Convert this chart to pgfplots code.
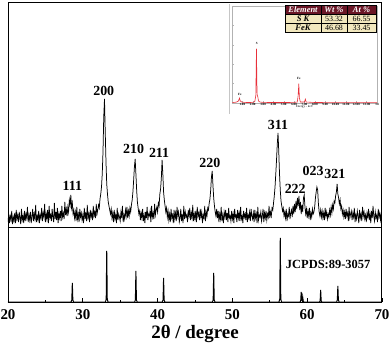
\documentclass[border=0pt]{standalone}
\usepackage{pgfplots}
\pgfplotsset{compat=1.18}
\usepackage{fontspec}
\setmainfont{Liberation Serif}
\definecolor{tabred}{HTML}{6A1626}
\definecolor{tabbeige}{HTML}{F2E8BE}
\definecolor{edsred}{HTML}{E8303A}
\begin{document}
\begin{tikzpicture}
\begin{axis}[
  name=main,
  at={(0,0)}, anchor=south west,
  scale only axis, width=374bp, height=299bp,
  xmin=20, xmax=70, ymin=0, ymax=299,
  axis line style={line width=1pt},
  xtick={20,30,40,50,60,70},
  minor x tick num=1,
  xtick pos=left, ytick=\empty,
  tick align=inside,
  major tick length=4bp, minor tick length=2bp,
  tick style={black, line width=0.6pt},
  /pgf/number format/assume math mode=true,
  xticklabel style={font=\fontsize{15}{15}\selectfont\bfseries, yshift=-4bp},
  xlabel={2θ / degree},
  xlabel style={font=\fontsize{19}{19}\selectfont\bfseries, at={(axis description cs:0.5,0)}, anchor=north, yshift=-20bp},
]
% measured pattern
\addplot[black, line width=0.75pt] coordinates {
(20.0,80)(20.1,88)(20.2,79)(20.3,86)(20.4,82)(20.5,91)(20.6,78)(20.7,85)(20.8,81)(20.9,89)
(21.0,79)(21.1,92)(21.2,83)(21.3,87)(21.4,80)(21.5,90)(21.6,84)(21.7,78)(21.8,93)(21.9,82)
(22.0,86)(22.1,79)(22.2,91)(22.3,81)(22.4,88)(22.5,84)(22.6,95)(22.7,80)(22.8,87)(22.9,82)
(23.0,90)(23.1,79)(23.2,85)(23.3,93)(23.4,81)(23.5,88)(23.6,83)(23.7,97)(23.8,80)(23.9,86)
(24.0,82)(24.1,91)(24.2,79)(24.3,87)(24.4,84)(24.5,94)(24.6,81)(24.7,89)(24.8,85)(24.9,98)
(25.0,80)(25.1,88)(25.2,83)(25.3,92)(25.4,79)(25.5,96)(25.6,84)(25.7,87)(25.8,81)(25.9,93)
(26.0,85)(26.1,80)(26.2,99)(26.3,83)(26.4,90)(26.5,82)(26.6,94)(26.7,79)(26.8,88)(26.9,84)
(27.0,91)(27.1,81)(27.2,96)(27.3,85)(27.4,89)(27.5,83)(27.6,100)(27.7,87)(27.8,93)(27.9,86)
(28.0,95)(28.1,90)(28.2,102)(28.3,97)(28.4,107)(28.5,94)(28.6,99)(28.7,88)(28.8,92)(28.9,84)
(29.0,90)(29.1,81)(29.2,95)(29.3,83)(29.4,88)(29.5,80)(29.6,93)(29.7,85)(29.8,89)(29.9,82)
(30.0,87)(30.1,79)(30.2,94)(30.3,83)(30.4,90)(30.5,81)(30.6,97)(30.7,84)(30.8,88)(30.9,80)
(31.0,92)(31.1,85)(31.2,89)(31.3,82)(31.4,96)(31.5,86)(31.6,90)(31.7,84)(31.8,98)(31.9,88)
(32.0,92)(32.1,97)(32.2,94)(32.3,103)(32.4,108)(32.5,115)(32.6,128)(32.7,150)(32.8,185)(32.9,203)
(33.0,170)(33.1,140)(33.2,118)(33.3,108)(33.4,100)(33.5,96)(33.6,92)(33.7,88)(33.8,93)(33.9,84)
(34.0,89)(34.1,80)(34.2,92)(34.3,83)(34.4,87)(34.5,79)(34.6,94)(34.7,82)(34.8,88)(34.9,85)
(35.0,81)(35.1,90)(35.2,84)(35.3,96)(35.4,80)(35.5,87)(35.6,83)(35.7,92)(35.8,86)(35.9,95)
(36.0,84)(36.1,91)(36.2,86)(36.3,94)(36.4,90)(36.5,97)(36.6,102)(36.7,110)(36.8,122)(36.9,135)
(37.0,143)(37.1,128)(37.2,112)(37.3,100)(37.4,94)(37.5,88)(37.6,91)(37.7,82)(37.8,89)(37.9,84)
(38.0,93)(38.1,81)(38.2,87)(38.3,79)(38.4,90)(38.5,84)(38.6,95)(38.7,82)(38.8,88)(38.9,86)
(39.0,91)(39.1,80)(39.2,96)(39.3,85)(39.4,89)(39.5,83)(39.6,98)(39.7,87)(39.8,92)(39.9,95)
(40.0,90)(40.1,99)(40.2,96)(40.3,108)(40.4,113)(40.5,124)(40.6,142)(40.7,128)(40.8,110)(40.9,102)
(41.0,96)(41.1,90)(41.2,94)(41.3,85)(41.4,91)(41.5,82)(41.6,88)(41.7,80)(41.8,93)(41.9,84)
(42.0,87)(42.1,79)(42.2,92)(42.3,83)(42.4,89)(42.5,81)(42.6,95)(42.7,86)(42.8,90)(42.9,80)
(43.0,84)(43.1,93)(43.2,81)(43.3,88)(43.4,79)(43.5,96)(43.6,83)(43.7,90)(43.8,85)(43.9,87)
(44.0,80)(44.1,92)(44.2,86)(44.3,94)(44.4,82)(44.5,89)(44.6,84)(44.7,97)(44.8,81)(44.9,88)
(45.0,83)(45.1,91)(45.2,80)(45.3,95)(45.4,86)(45.5,89)(45.6,82)(45.7,93)(45.8,85)(45.9,90)
(46.0,79)(46.1,87)(46.2,84)(46.3,96)(46.4,81)(46.5,90)(46.6,86)(46.7,94)(46.8,92)(46.9,99)
(47.0,103)(47.1,112)(47.2,125)(47.3,131)(47.4,117)(47.5,104)(47.6,96)(47.7,90)(47.8,86)(47.9,93)
(48.0,84)(48.1,91)(48.2,80)(48.3,88)(48.4,83)(48.5,95)(48.6,81)(48.7,87)(48.8,79)(48.9,90)
(49.0,85)(49.1,92)(49.2,82)(49.3,89)(49.4,80)(49.5,94)(49.6,84)(49.7,86)(49.8,81)(49.9,91)
(50.0,83)(50.1,88)(50.2,79)(50.3,93)(50.4,85)(50.5,87)(50.6,80)(50.7,92)(50.8,84)(50.9,89)
(51.0,81)(51.1,95)(51.2,83)(51.3,86)(51.4,79)(51.5,91)(51.6,85)(51.7,88)(51.8,82)(51.9,94)
(52.0,80)(52.1,87)(52.2,84)(52.3,90)(52.4,81)(52.5,93)(52.6,86)(52.7,83)(52.8,89)(52.9,80)
(53.0,92)(53.1,84)(53.2,88)(53.3,79)(53.4,95)(53.5,82)(53.6,87)(53.7,85)(53.8,90)(53.9,81)
(54.0,86)(54.1,93)(54.2,80)(54.3,89)(54.4,84)(54.5,91)(54.6,82)(54.7,88)(54.8,85)(54.9,96)
(55.0,84)(55.1,90)(55.2,86)(55.3,94)(55.4,92)(55.5,99)(55.6,106)(55.7,115)(55.8,128)(55.9,142)
(56.0,158)(56.1,169)(56.2,150)(56.3,128)(56.4,112)(56.5,101)(56.6,96)(56.7,91)(56.8,94)(56.9,86)
(57.0,90)(57.1,84)(57.2,93)(57.3,81)(57.4,88)(57.5,86)(57.6,95)(57.7,83)(57.8,89)(57.9,92)
(58.0,85)(58.1,96)(58.2,88)(58.3,98)(58.4,90)(58.5,101)(58.6,93)(58.7,104)(58.8,96)(58.9,106)
(59.0,92)(59.1,100)(59.2,88)(59.3,97)(59.4,90)(59.5,104)(59.6,107)(59.7,95)(59.8,88)(59.9,93)
(60.0,84)(60.1,91)(60.2,86)(60.3,94)(60.4,82)(60.5,89)(60.6,85)(60.7,93)(60.8,88)(60.9,90)
(61.0,95)(61.1,104)(61.2,110)(61.3,115)(61.4,112)(61.5,98)(61.6,90)(61.7,86)(61.8,92)(61.9,85)
(62.0,91)(62.1,84)(62.2,89)(62.3,82)(62.4,94)(62.5,86)(62.6,90)(62.7,83)(62.8,88)(62.9,85)
(63.0,92)(63.1,87)(63.2,95)(63.3,89)(63.4,97)(63.5,93)(63.6,101)(63.7,99)(63.8,106)(63.9,110)
(64.0,118)(64.1,108)(64.2,104)(64.3,98)(64.4,102)(64.5,93)(64.6,96)(64.7,88)(64.8,92)(64.9,85)
(65.0,90)(65.1,83)(65.2,93)(65.3,86)(65.4,89)(65.5,81)(65.6,95)(65.7,84)(65.8,88)(65.9,91)
(66.0,82)(66.1,89)(66.2,85)(66.3,94)(66.4,80)(66.5,87)(66.6,83)(66.7,91)(66.8,86)(66.9,79)
(67.0,92)(67.1,84)(67.2,88)(67.3,81)(67.4,95)(67.5,86)(67.6,90)(67.7,83)(67.8,87)(67.9,80)
(68.0,89)(68.1,85)(68.2,93)(68.3,82)(68.4,88)(68.5,79)(68.6,91)(68.7,84)(68.8,96)(68.9,86)
(69.0,81)(69.1,90)(69.2,84)(69.3,87)(69.4,80)(69.5,93)(69.6,85)(69.7,89)(69.8,82)(69.9,88)
(70.0,84)};
% panel divider
\addplot[black, line width=1pt] coordinates {(20,75)(70,75)};
% JCPDS 89-3057 reference pattern
\addplot[black, line width=1pt] coordinates {
(20,0)
(28.43,0)(28.53,2)(28.6,19)(28.67,2)(28.77,0)
(33.03,0)(33.13,3)(33.2,51)(33.27,3)(33.37,0)
(36.93,0)(37.03,2)(37.1,31)(37.17,2)(37.27,0)
(40.63,0)(40.73,2)(40.8,24)(40.87,2)(40.97,0)
(47.33,0)(47.43,2)(47.5,29)(47.57,2)(47.67,0)
(56.23,0)(56.33,3)(56.4,64)(56.47,3)(56.57,0)
(59.05,0)(59.13,1)(59.2,10)(59.27,2)(59.35,1)(59.4,5)(59.47,1)(59.55,0)
(61.63,0)(61.73,1)(61.8,12)(61.87,1)(61.97,0)
(63.93,0)(64.03,2)(64.1,16)(64.17,2)(64.27,0)
(70,0)};
\begin{scope}[font=\fontsize{14}{14}\selectfont\bfseries]
\node at (axis cs:28.6,116) {111};
\node at (axis cs:32.8,211) {200};
\node at (axis cs:36.8,153) {210};
\node at (axis cs:40.2,149) {211};
\node at (axis cs:47.0,139) {220};
\node at (axis cs:56.1,177) {311};
\node at (axis cs:58.4,113) {222};
\node at (axis cs:60.8,131) {023};
\node at (axis cs:63.7,128) {321};
\end{scope}
\node[font=\fontsize{12.5}{12.5}\selectfont\bfseries] at (axis cs:62.8,38) {JCPDS:89-3057};
\end{axis}

% EDS inset
\fill[white] (221bp,188bp) rectangle (373bp,298.4bp);
\draw[gray!45, line width=0.5pt] (221bp,188bp) -- (221bp,298.4bp);
\begin{axis}[
  at={(224bp,199bp)}, anchor=south west,
  scale only axis, width=145bp, height=97bp,
  xmin=0, xmax=14, ymin=0, ymax=100,
  axis line style={gray!60, line width=0.5pt},
  xtick={1,...,14},
  xticklabels={1.00,2.00,3.00,4.00,5.00,6.00,7.00,8.00,9.00,10.00,11.00,12.00,13.00,14},
  ytick={20,40,60,80}, yticklabels={},
  xtick pos=left, ytick pos=left, tick align=inside,
  major tick length=1.5bp,
  tick style={gray!60, line width=0.4pt},
  xticklabel style={font=\fontsize{3.2}{3.2}\selectfont\bfseries, inner sep=0.6bp},
  xlabel={Energy - keV},
  xlabel style={font=\fontsize{3.2}{3.2}\selectfont, inner sep=0.5bp, yshift=1.5bp},
]
\addplot[edsred, line width=0.6pt] coordinates {
(0,0)(0.2,0.6)(0.45,1)(0.62,2)(0.72,5)(0.8,2)(0.95,1)(1.2,0.6)(1.6,0.5)(2.0,0.6)
(2.2,1.5)(2.3,8)(2.36,56)(2.42,9)(2.5,6)(2.56,2)(2.7,1)(3.0,0.6)(4.0,0.5)(5.0,0.5)
(6.0,0.6)(6.3,1)(6.38,7)(6.45,20)(6.51,5)(6.6,1)(7.0,1)(7.08,4)(7.16,1)(8.0,0.5)
(10.0,0.4)(12.0,0.3)(14.0,0.3)};
\begin{scope}[font=\fontsize{3.2}{3.2}\selectfont\bfseries]
\node at (axis cs:2.38,61) {S};
\node at (axis cs:6.45,25) {Fe};
\node at (axis cs:0.75,9) {Fe};
\end{scope}
\end{axis}

% composition table
\fill[tabred] (277bp,288bp) rectangle (368bp,297bp);
\fill[tabbeige] (277bp,270bp) rectangle (368bp,288bp);
\draw[black, line width=0.4pt] (277bp,270bp) rectangle (368bp,297bp);
\draw[black, line width=0.4pt] (277bp,288bp) -- (368bp,288bp) (277bp,279bp) -- (368bp,279bp)
  (313bp,270bp) -- (313bp,297bp) (339bp,270bp) -- (339bp,297bp);
\begin{scope}[font=\fontsize{8}{8}\selectfont]
\node[white, font=\fontsize{8.5}{8.5}\selectfont\bfseries\itshape] at (295bp,292.5bp) {Element};
\node[white, font=\fontsize{8.5}{8.5}\selectfont\bfseries\itshape] at (326bp,292.5bp) {Wt \%};
\node[white, font=\fontsize{8.5}{8.5}\selectfont\bfseries\itshape] at (353.5bp,292.5bp) {At \%};
\node[font=\fontsize{8.5}{8.5}\selectfont\bfseries\itshape] at (295bp,283.5bp) {S K};
\node at (326bp,283.5bp) {53.32};
\node at (353.5bp,283.5bp) {66.55};
\node[font=\fontsize{8.5}{8.5}\selectfont\bfseries\itshape] at (295bp,274.5bp) {FeK};
\node at (326bp,274.5bp) {46.68};
\node at (353.5bp,274.5bp) {33.45};
\end{scope}

\pgfresetboundingbox
\path[use as bounding box] (-8bp,-49bp) rectangle (384bp,302bp);
\end{tikzpicture}
\end{document}
